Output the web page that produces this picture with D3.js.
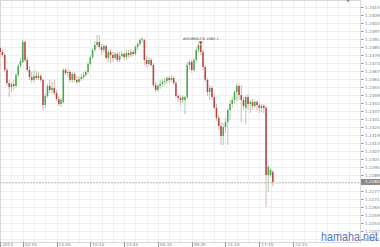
<!DOCTYPE html>
<html>
<head>
<meta charset="utf-8">
<script src="https://cdn.jsdelivr.net/npm/d3@7"></script>
<style>
  html, body { margin: 0; padding: 0; background: #fff; }
  svg { display: block; }
</style>
</head>
<body>
<svg id="chart" width="380" height="247"></svg>
<script>
'use strict';

// OHLC, one entry per candle
const opens = [
  1.23845, 1.23815, 1.23792, 1.23680, 1.23582, 1.23552, 1.23575, 1.23560, 1.23642, 1.23710,
  1.23740, 1.23890, 1.23755, 1.23680, 1.23627, 1.23605, 1.23635, 1.23620, 1.23635, 1.23605,
  1.23417, 1.23485, 1.23560, 1.23530, 1.23545, 1.23507, 1.23462, 1.23425, 1.23440, 1.23680,
  1.23657, 1.23665, 1.23605, 1.23650, 1.23605, 1.23590, 1.23612, 1.23627, 1.23642, 1.23665,
  1.23725, 1.23777, 1.23830, 1.23867, 1.23890, 1.23852, 1.23830, 1.23860, 1.23770, 1.23815,
  1.23792, 1.23770, 1.23800, 1.23755, 1.23785, 1.23800, 1.23777, 1.23807, 1.23792, 1.23815,
  1.23800, 1.23852, 1.23875, 1.23905, 1.23905, 1.23755, 1.23725, 1.23755, 1.23717, 1.23567,
  1.23530, 1.23560, 1.23575, 1.23590, 1.23597, 1.23620, 1.23605, 1.23620, 1.23582, 1.23485,
  1.23470, 1.23455, 1.23455, 1.23477, 1.23717, 1.23740, 1.23680, 1.23755, 1.23830, 1.23867,
  1.23815, 1.23702, 1.23605, 1.23515, 1.23545, 1.23477, 1.23395, 1.23320, 1.23260, 1.23185,
  1.23252, 1.23290, 1.23380, 1.23425, 1.23455, 1.23515, 1.23560, 1.23492, 1.23455, 1.23395,
  1.23477, 1.23425, 1.23440, 1.23410, 1.23440, 1.23417, 1.23395, 1.23410, 1.23395, 1.22892,
  1.22892, 1.22915
];
const highs = [
  1.23860, 1.23830, 1.23807, 1.23695, 1.23605, 1.23590, 1.23605, 1.23657, 1.23725, 1.23770,
  1.23905, 1.23897, 1.23777, 1.23710, 1.23665, 1.23680, 1.23672, 1.23665, 1.23650, 1.23620,
  1.23507, 1.23575, 1.23605, 1.23590, 1.23605, 1.23530, 1.23485, 1.23470, 1.23695, 1.23695,
  1.23687, 1.23680, 1.23665, 1.23665, 1.23635, 1.23635, 1.23650, 1.23665, 1.23680, 1.23740,
  1.23792, 1.23845, 1.23897, 1.23942, 1.23942, 1.23875, 1.23875, 1.23867, 1.23830, 1.23837,
  1.23815, 1.23815, 1.23815, 1.23815, 1.23822, 1.23815, 1.23830, 1.23830, 1.23837, 1.23830,
  1.23867, 1.23890, 1.23920, 1.23927, 1.23912, 1.23785, 1.23777, 1.23770, 1.23732, 1.23590,
  1.23575, 1.23605, 1.23612, 1.23620, 1.23635, 1.23635, 1.23642, 1.23635, 1.23597, 1.23500,
  1.23492, 1.23492, 1.23485, 1.23740, 1.23755, 1.23755, 1.23770, 1.23852, 1.23882, 1.23882,
  1.23830, 1.23717, 1.23620, 1.23567, 1.23560, 1.23500, 1.23425, 1.23342, 1.23290, 1.23282,
  1.23320, 1.23395, 1.23455, 1.23477, 1.23530, 1.23575, 1.23575, 1.23567, 1.23477, 1.23492,
  1.23500, 1.23455, 1.23462, 1.23455, 1.23455, 1.23432, 1.23425, 1.23425, 1.23410, 1.22967,
  1.22945, 1.22930
];
const lows = [
  1.23792, 1.23777, 1.23665, 1.23560, 1.23477, 1.23515, 1.23530, 1.23545, 1.23627, 1.23695,
  1.23732, 1.23740, 1.23665, 1.23605, 1.23582, 1.23590, 1.23605, 1.23605, 1.23590, 1.23380,
  1.23395, 1.23470, 1.23507, 1.23500, 1.23492, 1.23447, 1.23410, 1.23402, 1.23425, 1.23642,
  1.23627, 1.23590, 1.23582, 1.23590, 1.23575, 1.23582, 1.23597, 1.23612, 1.23627, 1.23650,
  1.23710, 1.23762, 1.23815, 1.23852, 1.23837, 1.23792, 1.23807, 1.23755, 1.23740, 1.23732,
  1.23740, 1.23755, 1.23740, 1.23740, 1.23770, 1.23755, 1.23755, 1.23770, 1.23777, 1.23785,
  1.23785, 1.23830, 1.23860, 1.23882, 1.23717, 1.23702, 1.23710, 1.23702, 1.23552, 1.23515,
  1.23515, 1.23537, 1.23552, 1.23567, 1.23575, 1.23582, 1.23590, 1.23567, 1.23470, 1.23440,
  1.23417, 1.23432, 1.23350, 1.23462, 1.23680, 1.23657, 1.23665, 1.23732, 1.23807, 1.23792,
  1.23680, 1.23590, 1.23485, 1.23455, 1.23455, 1.23380, 1.23297, 1.23230, 1.23117, 1.23117,
  1.23207, 1.23117, 1.23305, 1.23395, 1.23425, 1.23447, 1.23455, 1.23290, 1.23380, 1.23275,
  1.23380, 1.23357, 1.23380, 1.23395, 1.23380, 1.23357, 1.23365, 1.23357, 1.22652, 1.22765,
  1.22877, 1.22810
];
const closes = [
  1.23815, 1.23792, 1.23680, 1.23582, 1.23552, 1.23575, 1.23560, 1.23642, 1.23710, 1.23747,
  1.23890, 1.23755, 1.23680, 1.23627, 1.23605, 1.23635, 1.23620, 1.23635, 1.23605, 1.23417,
  1.23485, 1.23560, 1.23530, 1.23545, 1.23507, 1.23462, 1.23425, 1.23455, 1.23680, 1.23657,
  1.23665, 1.23605, 1.23650, 1.23605, 1.23590, 1.23612, 1.23627, 1.23642, 1.23665, 1.23725,
  1.23777, 1.23830, 1.23867, 1.23890, 1.23852, 1.23830, 1.23860, 1.23770, 1.23815, 1.23792,
  1.23770, 1.23800, 1.23755, 1.23785, 1.23800, 1.23777, 1.23807, 1.23792, 1.23815, 1.23800,
  1.23852, 1.23875, 1.23905, 1.23912, 1.23755, 1.23725, 1.23755, 1.23717, 1.23567, 1.23530,
  1.23560, 1.23575, 1.23590, 1.23597, 1.23620, 1.23605, 1.23620, 1.23582, 1.23485, 1.23470,
  1.23455, 1.23477, 1.23477, 1.23717, 1.23740, 1.23680, 1.23755, 1.23830, 1.23867, 1.23815,
  1.23702, 1.23605, 1.23515, 1.23545, 1.23477, 1.23395, 1.23320, 1.23260, 1.23185, 1.23252,
  1.23290, 1.23380, 1.23425, 1.23455, 1.23515, 1.23560, 1.23492, 1.23455, 1.23410, 1.23477,
  1.23425, 1.23440, 1.23410, 1.23440, 1.23417, 1.23395, 1.23410, 1.23395, 1.22892, 1.22952,
  1.22930, 1.22840
];

const priceTicks = [
  1.2415, 1.2409, 1.2403, 1.2397, 1.2391, 1.2385, 1.2379, 1.2373, 1.2367, 1.2361,
  1.2355, 1.2349, 1.2343, 1.2337, 1.2331, 1.2325, 1.2319, 1.2313, 1.2307, 1.2301,
  1.2295, 1.2289, 1.2283, 1.2277, 1.2271, 1.2265, 1.2259, 1.2253, 1.2247, 1.2241
];
const timeLabels = ['2013', '02:15', '14:45', '10:15', '23:45', '04:15', '09:45', '11:15', '17:45', '22:15'];
const timeSlots = [0, 10, 25, 40, 55, 70, 85, 100, 115, 130, 145];
const lastPrice = 1.22840;
const markText = '#M1880/2.8 1060-1';
const markSlot = 89;

const W = 380, H = 247;
const plotRight = 360, plotBottom = 242;

const svg = d3.select('#chart');

const x = d3.scaleLinear().domain([0, 159.7]).range([0.2, plotRight]);
const y = d3.scaleLinear().domain([1.2415, 1.2241]).range([7.3, 239.3]);

const candles = opens.map((o, i) => ({i: i, o: o, h: highs[i], l: lows[i], c: closes[i]}));

// grid
const grid = svg.append('g');
grid.selectAll('line.h')
    .data(priceTicks)
    .enter()
    .append('line')
    .attr('x1', 0).attr('x2', plotRight)
    .attr('y1', (d) => Math.round(y(d)) + 0.5)
    .attr('y2', (d) => Math.round(y(d)) + 0.5)
    .attr('stroke', '#efefef');

grid.selectAll('line.v')
    .data(d3.range(5, 160, 5))
    .enter()
    .append('line')
    .attr('x1', (d) => Math.round(x(d)) + 0.5)
    .attr('x2', (d) => Math.round(x(d)) + 0.5)
    .attr('y1', 0).attr('y2', plotBottom)
    .attr('stroke', '#efefef');

// frame
svg.append('rect')
    .attr('x', 0.5).attr('y', 0.5)
    .attr('width', plotRight).attr('height', plotBottom)
    .attr('fill', 'none')
    .attr('stroke', '#d8d8d8');

// last price line
svg.append('line')
    .attr('x1', 0).attr('x2', plotRight)
    .attr('y1', Math.round(y(lastPrice)) + 0.5)
    .attr('y2', Math.round(y(lastPrice)) + 0.5)
    .attr('stroke', '#c8c8c8')
    .attr('stroke-dasharray', '2,1');

// candles
const up = '#3a963a', down = '#a82a2a';
const cg = svg.append('g');
cg.selectAll('line.wick')
    .data(candles)
    .enter()
    .append('line')
    .attr('x1', (d) => x(d.i)).attr('x2', (d) => x(d.i))
    .attr('y1', (d) => y(d.h)).attr('y2', (d) => y(d.l))
    .attr('stroke', (d) => d.c >= d.o ? '#a6d4a6' : '#e2b0b0')
    .attr('stroke-width', 1);

cg.selectAll('rect')
    .data(candles)
    .enter()
    .append('rect')
    .attr('x', (d) => x(d.i) - 0.8)
    .attr('width', 1.6)
    .attr('y', (d) => y(Math.max(d.o, d.c)))
    .attr('height', (d) => Math.max(1, Math.abs(y(d.o) - y(d.c))))
    .attr('fill', (d) => d.c >= d.o ? up : down)
    .attr('opacity', 0.8);

// annotation at the session high
svg.append('text')
    .attr('x', x(markSlot))
    .attr('y', y(highs[markSlot]) - 3)
    .attr('text-anchor', 'middle')
    .attr('font-family', 'DejaVu Sans, sans-serif')
    .attr('font-size', 3.6)
    .attr('fill', '#444')
    .text(markText);
svg.append('path')
    .attr('d', d3.symbol(d3.symbolTriangle, 6)())
    .attr('transform', `translate(${x(markSlot)},${y(highs[markSlot]) - 0.5}) rotate(180)`)
    .attr('fill', down);

// price axis
const yAxis = svg.append('g');
yAxis.selectAll('line')
    .data(priceTicks)
    .enter()
    .append('line')
    .attr('x1', plotRight + 1).attr('x2', plotRight + 3.5)
    .attr('y1', (d) => Math.round(y(d)) + 0.5)
    .attr('y2', (d) => Math.round(y(d)) + 0.5)
    .attr('stroke', '#999');
yAxis.selectAll('text')
    .data(priceTicks)
    .enter()
    .append('text')
    .attr('x', plotRight + 5)
    .attr('y', (d) => y(d) + 1.5)
    .attr('font-family', 'DejaVu Sans, sans-serif')
    .attr('font-size', 4.2)
    .attr('fill', '#777')
    .text((d) => d.toFixed(4));

// last price box
const ly = y(lastPrice);
svg.append('rect')
    .attr('x', plotRight + 1).attr('y', ly - 3)
    .attr('width', 19).attr('height', 6)
    .attr('fill', '#8a8a8a');
svg.append('text')
    .attr('x', plotRight + 5)
    .attr('y', ly + 1.5)
    .attr('font-family', 'DejaVu Sans, sans-serif')
    .attr('font-size', 4.2)
    .attr('fill', '#fff')
    .text(lastPrice.toFixed(4));

// time axis
const xAxis = svg.append('g');
const timeData = timeLabels.map((t, k) => ({t: t, s: timeSlots[k]}));
xAxis.selectAll('line')
    .data(timeData)
    .enter()
    .append('line')
    .attr('x1', (d) => Math.round(x(d.s)) + 0.5)
    .attr('x2', (d) => Math.round(x(d.s)) + 0.5)
    .attr('y1', plotBottom).attr('y2', H)
    .attr('stroke', '#999');
xAxis.selectAll('text')
    .data(timeData)
    .enter()
    .append('text')
    .attr('x', (d) => x(d.s) + 2)
    .attr('y', 246.3)
    .attr('font-family', 'DejaVu Sans, sans-serif')
    .attr('font-size', 4.2)
    .attr('fill', '#777')
    .text((d) => d.t);

// little menu glyph top right
svg.append('path')
    .attr('d', 'M346,0 L350,0 L348,2.5 Z')
    .attr('fill', '#999');

// watermark
svg.append('text')
    .attr('x', 321)
    .attr('y', 241)
    .attr('font-family', 'Liberation Sans, Arial, sans-serif')
    .attr('font-size', 13)
    .attr('textLength', 57)
    .attr('lengthAdjust', 'spacingAndGlyphs')
    .attr('fill', '#3d62b8')
    .attr('opacity', 0.85)
    .text('hamaha.net');
</script>
</body>
</html>
